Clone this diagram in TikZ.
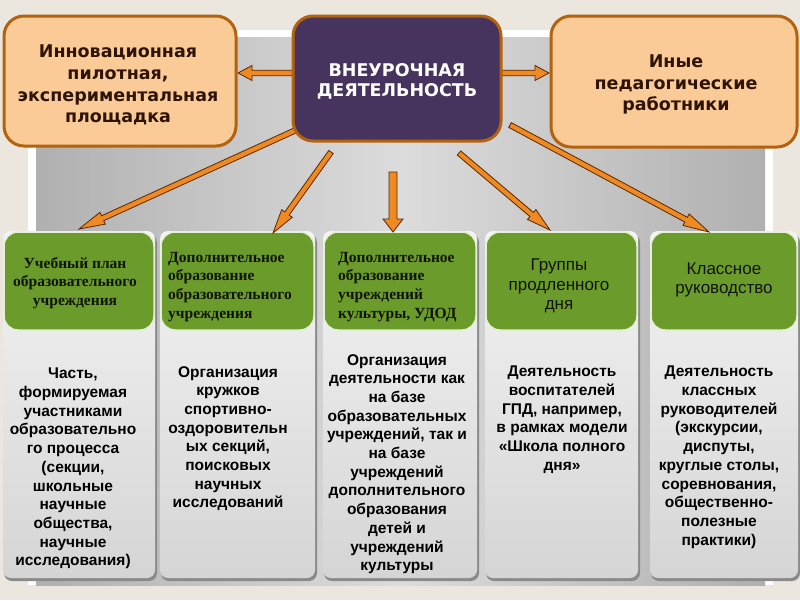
\documentclass[tikz,border=0pt]{standalone}
\usepackage{fontspec}
\setmainfont{Liberation Sans}
\newfontfamily\dejavu{DejaVu Sans}
\newfontfamily\serifhead{Liberation Serif}
\usetikzlibrary{calc}
\definecolor{bgc}{HTML}{EBE7DF}
\definecolor{peach}{HTML}{FBCB97}
\definecolor{brownb}{HTML}{B3620E}
\definecolor{purp}{HTML}{46345E}
\definecolor{orng}{HTML}{EE8A22}
\definecolor{arrline}{HTML}{5C2600}
\definecolor{grn}{HTML}{6B9B2B}
\definecolor{grnb}{HTML}{E4EFD6}
\definecolor{txtbr}{HTML}{2E1406}
\definecolor{pg1}{HTML}{B0B0B0}
\definecolor{pg2}{HTML}{DCDCDC}
\definecolor{cd1}{HTML}{F4F4F4}
\definecolor{cd2}{HTML}{D5D5D5}
\definecolor{cds}{HTML}{8A8A8A}
\definecolor{hdtxt}{HTML}{101408}
\newcommand\fatarr[5]{% from, to, half shaft, half head, head length
  \coordinate (fa-h) at ($(#2)!#5!(#1)$);
  \filldraw[arrowst] ($(#1)!#3!90:(#2)$) -- ($(fa-h)!#3!90:(#2)$) -- ($(fa-h)!#4!90:(#2)$) -- (#2)
    -- ($(fa-h)!#4!-90:(#2)$) -- ($(fa-h)!#3!-90:(#2)$) -- ($(#1)!#3!-90:(#2)$) -- cycle;}
\newcommand\colcard[2]{% x1, x2
  \fill[cds, rounded corners=8pt] (#1+1,234) rectangle (#2+2,581);
  \shade[top color=cd1, bottom color=cd2, rounded corners=8pt] (#1,231) rectangle (#2,578);
  \draw[grnb, fill=grn, line width=1.5pt, rounded corners=14pt] (#1+1,232) rectangle (#2-1,330);}
\tikzset{
  arrowst/.style={fill=orng, draw=arrline, line width=0.8pt, line join=miter},
  topbox/.style={rounded corners=20pt, line width=3pt, draw=brownb, fill=peach, inner sep=0pt},
  cenbox/.style={rounded corners=20pt, line width=3pt, draw=brownb, fill=purp, inner sep=0pt},
  toptxt/.style={align=center, inner sep=0pt, text=txtbr, font=\dejavu\bfseries\fontsize{17.5}{21.7}\selectfont},
  centxt/.style={align=center, inner sep=0pt, text=white, font=\dejavu\bfseries\fontsize{17.5}{20}\selectfont},
  bodytxt/.style={align=center, anchor=north, inner sep=0pt, text=black,
    font=\bfseries\fontsize{15.5}{18.7}\selectfont},
  headserif/.style={inner sep=0pt, text=hdtxt, font=\serifhead\bfseries\fontsize{15.5}{18.6}\selectfont},
  headsans/.style={align=center, inner sep=0pt, text=hdtxt, font=\fontsize{17}{19.5}\selectfont}
}
\begin{document}
\begin{tikzpicture}[x=1pt,y=-1pt]
\fill[bgc] (0,0) rectangle (800,600);
\useasboundingbox (0,0) rectangle (800,600);
% gray panel
\fill[white] (28,30) rectangle (773,585);
\shade[left color=pg1, right color=pg1, middle color=pg2] (36,37) rectangle (765,585);
% column cards
\colcard{3}{155}
\colcard{160}{315}
\colcard{323}{477}
\colcard{485}{638}
\colcard{650}{798}
% header texts
\node[headserif, align=center] (h1) at (75,283) {Учебный план\\образовательного\\учреждения};
\node[headserif, align=left, anchor=north west] (h2) at (168,252) {Дополнительное\\образование\\образовательного\\учреждения};
\node[headserif, align=left, anchor=north west] (h3) at (338,252) {Дополнительное\\образование\\учреждений\\культуры, УДОД};
\node[headsans] (h4) at (559,286) {Группы\\продленного\\дня};
\node[headsans] (h5) at (724,280) {Классное\\руководство};
% body texts
\node[bodytxt] (b1) at (73,368) {Часть,\\формируемая\\участниками\\образовательно\\го процесса\\(секции,\\школьные\\научные\\общества,\\научные\\исследования)};
\node[bodytxt] (b2) at (228,366) {Организация\\кружков\\спортивно-\\оздоровительн\\ых секций,\\поисковых\\научных\\исследований};
\node[bodytxt] (b3) at (397,354) {Организация\\деятельности как\\на базе\\образовательных\\учреждений, так и\\на базе\\учреждений\\дополнительного\\образования\\детей и\\учреждений\\культуры};
\node[bodytxt] (b4) at (562,366) {Деятельность\\воспитателей\\ГПД, например,\\в рамках модели\\«Школа полного\\дня»};
\node[bodytxt] (b5) at (719,366) {Деятельность\\классных\\руководителей\\(экскурсии,\\диспуты,\\круглые столы,\\соревнования,\\общественно-\\полезные\\практики)};
% arrow end points
\coordinate (a1s) at (296,130); \coordinate (a1e) at (79,229);
\coordinate (a2s) at (331,152); \coordinate (a2e) at (273,233);
\coordinate (a3s) at (393,172); \coordinate (a3e) at (393,232);
\coordinate (a4s) at (459,153); \coordinate (a4e) at (550,230);
\coordinate (a5s) at (510,125); \coordinate (a5e) at (709,232);
\coordinate (hls) at (300,73); \coordinate (hle) at (238,73);
\coordinate (hrs) at (495,73); \coordinate (hre) at (549,73);
\fatarr{a1s}{a1e}{2.7pt}{6.5pt}{26pt}
\fatarr{a2s}{a2e}{2.7pt}{6.5pt}{24pt}
\fatarr{a3s}{a3e}{4pt}{10pt}{13pt}
\fatarr{a4s}{a4e}{2.7pt}{6.5pt}{24pt}
\fatarr{a5s}{a5e}{2.7pt}{6.5pt}{26pt}
\fatarr{hls}{hle}{2.8pt}{7.5pt}{14pt}
\fatarr{hrs}{hre}{2.8pt}{7.5pt}{14pt}
% top boxes
\node[topbox, minimum width=232pt, minimum height=130pt] (L) at (120,81) {};
\node[toptxt] (Lt) at (118,85) {Инновационная\\пилотная,\\экспериментальная\\площадка};
\node[cenbox, minimum width=208pt, minimum height=125pt] (C) at (397,78.5) {};
\node[centxt] (Ct) at (397,81) {ВНЕУРОЧНАЯ\\ДЕЯТЕЛЬНОСТЬ};
\node[topbox, minimum width=246pt, minimum height=131pt] (R) at (674,81.5) {};
\node[toptxt] (Rt) at (676,84.5) {Иные\\педагогические\\работники};
\end{tikzpicture}
\end{document}
